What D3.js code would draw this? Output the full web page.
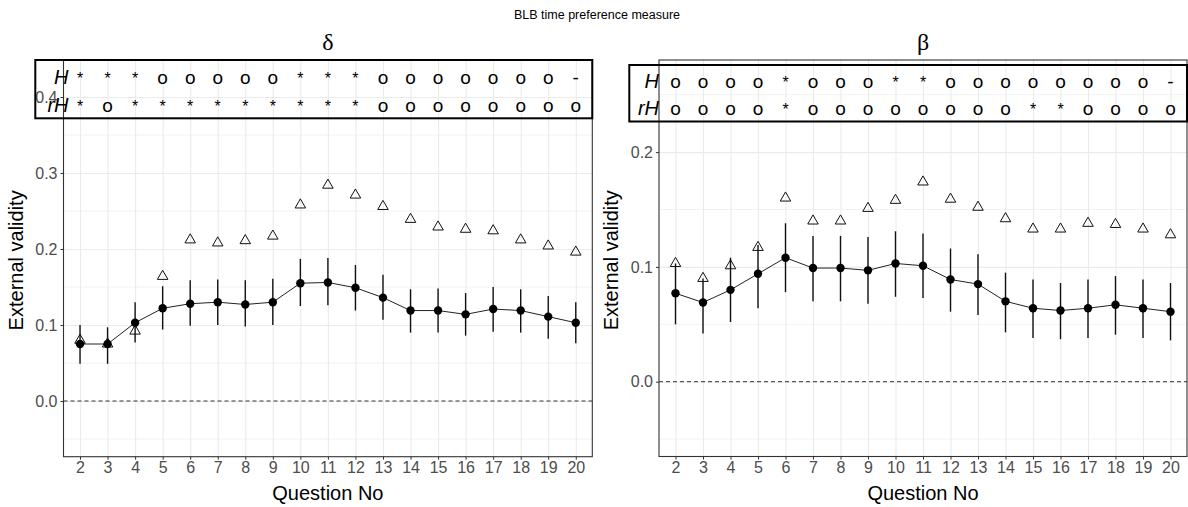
<!DOCTYPE html>
<html>
<head>
<meta charset="utf-8">
<script src="https://cdn.jsdelivr.net/npm/d3@7"></script>
<style>
  body { margin: 0; background: #fff; }
  svg { display: block; font-family: "Liberation Sans", Arial, sans-serif; }
</style>
</head>
<body>
<div id="chart"></div>
<script>
// questions on the x axis
const questions = [2, 3, 4, 5, 6, 7, 8, 9, 10, 11, 12, 13, 14, 15, 16, 17, 18, 19, 20]

// delta panel
const deltaEst = [0.075, 0.075, 0.103, 0.122, 0.128, 0.130, 0.127, 0.130, 0.155, 0.156, 0.149, 0.136, 0.119, 0.119, 0.114, 0.121, 0.119, 0.111, 0.103]
const deltaLo  = [0.049, 0.049, 0.077, 0.094, 0.099, 0.100, 0.098, 0.100, 0.125, 0.126, 0.119, 0.107, 0.090, 0.090, 0.086, 0.091, 0.090, 0.082, 0.076]
const deltaHi  = [0.100, 0.097, 0.130, 0.151, 0.159, 0.160, 0.159, 0.161, 0.187, 0.188, 0.179, 0.166, 0.147, 0.148, 0.142, 0.150, 0.147, 0.138, 0.130]
const deltaTri = [0.080, 0.075, 0.092, 0.164, 0.212, 0.208, 0.211, 0.217, 0.258, 0.284, 0.271, 0.256, 0.239, 0.229, 0.226, 0.224, 0.212, 0.204, 0.196]
const deltaH   = ["*", "*", "*", "o", "o", "o", "o", "o", "*", "*", "*", "o", "o", "o", "o", "o", "o", "o", "-"]
const deltaRH  = ["*", "o", "*", "*", "*", "*", "*", "*", "*", "*", "*", "o", "o", "o", "o", "o", "o", "o", "o"]
const deltaTicks = [0.0, 0.1, 0.2, 0.3, 0.4]

// beta panel
const betaEst = [0.077, 0.069, 0.080, 0.094, 0.108, 0.099, 0.099, 0.097, 0.103, 0.101, 0.089, 0.085, 0.070, 0.064, 0.062, 0.064, 0.067, 0.064, 0.061]
const betaLo  = [0.050, 0.042, 0.052, 0.064, 0.078, 0.070, 0.070, 0.068, 0.074, 0.073, 0.061, 0.058, 0.043, 0.038, 0.037, 0.038, 0.041, 0.038, 0.036]
const betaHi  = [0.103, 0.090, 0.108, 0.119, 0.138, 0.127, 0.127, 0.126, 0.131, 0.129, 0.116, 0.111, 0.095, 0.089, 0.086, 0.089, 0.092, 0.089, 0.086]
const betaTri = [0.103, 0.090, 0.101, 0.117, 0.160, 0.140, 0.140, 0.151, 0.158, 0.174, 0.159, 0.152, 0.142, 0.133, 0.133, 0.138, 0.137, 0.133, 0.128]
const betaH   = ["o", "o", "o", "o", "*", "o", "o", "o", "*", "*", "o", "o", "o", "o", "o", "o", "o", "o", "-"]
const betaRH  = ["o", "o", "o", "o", "*", "o", "o", "o", "o", "o", "o", "o", "o", "*", "*", "o", "o", "o", "o"]
const betaTicks = [0.0, 0.1, 0.2]

const width = 1188, height = 507

const svg = d3.select("#chart").append("svg")
    .attr("width", width)
    .attr("height", height)

svg.append("text")
    .attr("x", 597).attr("y", 19)
    .attr("text-anchor", "middle")
    .attr("font-size", 12.5)
    .attr("fill", "#000")
    .text("BLB time preference measure")

function drawPanel(opt) {
    const x = d3.scalePoint().domain(questions).range([opt.left, opt.right]).padding(0.6)
    const y = d3.scaleLinear().domain(opt.yDomain).range([opt.bottom, opt.top])
    const g = svg.append("g")

    // minor grid
    const minor = d3.range(Math.ceil(opt.yDomain[0] / 0.05), Math.floor(opt.yDomain[1] / 0.05) + 1)
        .map(i => i * 0.05).filter(v => Math.abs(Math.round(v * 10) - v * 10) > 0.01)
    g.selectAll(".minor").data(minor).join("line")
        .attr("x1", opt.left).attr("x2", opt.right)
        .attr("y1", d => y(d)).attr("y2", d => y(d))
        .attr("stroke", "#f2f2f2").attr("stroke-width", 1)

    // major grid
    g.append("g")
        .attr("transform", `translate(${opt.left},0)`)
        .call(d3.axisLeft(y).tickValues(opt.ticks).tickSize(-(opt.right - opt.left)).tickFormat(""))
        .call(a => a.select(".domain").remove())
        .call(a => a.selectAll("line").attr("stroke", "#ebebeb").attr("stroke-width", 1.1))
    g.append("g")
        .attr("transform", `translate(0,${opt.bottom})`)
        .call(d3.axisBottom(x).tickSize(-(opt.bottom - opt.top)).tickFormat(""))
        .call(a => a.select(".domain").remove())
        .call(a => a.selectAll("line").attr("stroke", "#ebebeb").attr("stroke-width", 1.1))

    // zero line
    g.append("line")
        .attr("x1", opt.left).attr("x2", opt.right)
        .attr("y1", y(0)).attr("y2", y(0))
        .attr("stroke", "#333").attr("stroke-dasharray", "4,3")

    // panel border
    g.append("rect")
        .attr("x", opt.left).attr("y", opt.top)
        .attr("width", opt.right - opt.left).attr("height", opt.bottom - opt.top)
        .attr("fill", "none").attr("stroke", "#333").attr("stroke-width", 1.1)

    // axes
    g.append("g")
        .attr("transform", `translate(${opt.left},0)`)
        .call(d3.axisLeft(y).tickValues(opt.ticks).tickSize(3).tickPadding(3).tickFormat(d3.format(".1f")))
        .call(a => a.select(".domain").remove())
        .call(a => a.selectAll("line").attr("stroke", "#333"))
        .call(a => a.selectAll("text").attr("font-size", 16).attr("fill", "#4d4d4d")
            .attr("font-family", "Liberation Sans, Arial, sans-serif"))
    g.append("g")
        .attr("transform", `translate(0,${opt.bottom})`)
        .call(d3.axisBottom(x).tickSize(3).tickPadding(2))
        .call(a => a.select(".domain").remove())
        .call(a => a.selectAll("line").attr("stroke", "#333"))
        .call(a => a.selectAll("text").attr("font-size", 16).attr("fill", "#4d4d4d")
            .attr("font-family", "Liberation Sans, Arial, sans-serif"))

    // axis titles
    g.append("text")
        .attr("transform", `translate(${opt.left - 41},${(opt.top + opt.bottom) / 2 + 2}) rotate(-90)`)
        .attr("text-anchor", "middle")
        .attr("font-size", 20)
        .text("External validity")
    g.append("text")
        .attr("x", (opt.left + opt.right) / 2).attr("y", 500)
        .attr("text-anchor", "middle")
        .attr("font-size", 20)
        .text("Question No")

    // strip label
    g.append("text")
        .attr("x", (opt.left + opt.right) / 2).attr("y", 50)
        .attr("text-anchor", "middle")
        .attr("font-size", 24)
        .attr("font-family", "Liberation Serif, serif")
        .text(opt.strip)

    // error bars
    g.selectAll(".err").data(questions).join("line")
        .attr("x1", d => x(d)).attr("x2", d => x(d))
        .attr("y1", (d, i) => y(opt.lo[i])).attr("y2", (d, i) => y(opt.hi[i]))
        .attr("stroke", "#111").attr("stroke-width", 1.4)

    // connecting line
    g.append("path")
        .datum(questions)
        .attr("fill", "none")
        .attr("stroke", "#222")
        .attr("stroke-width", 1)
        .attr("d", d3.line().x(d => x(d)).y((d, i) => y(opt.est[i])))

    // triangles
    g.selectAll(".tri").data(questions).join("path")
        .attr("transform", (d, i) => `translate(${x(d)},${y(opt.tri[i])})`)
        .attr("d", d3.symbol(d3.symbolTriangle, 48))
        .attr("fill", "none").attr("stroke", "#111").attr("stroke-width", 1)

    // points
    g.selectAll(".pt").data(questions).join("circle")
        .attr("cx", d => x(d)).attr("cy", (d, i) => y(opt.est[i]))
        .attr("r", 4.2).attr("fill", "#000")

    // significance table
    g.append("rect")
        .attr("x", opt.boxLeft).attr("y", opt.boxTop)
        .attr("width", opt.right - opt.boxLeft).attr("height", opt.boxBottom - opt.boxTop)
        .attr("fill", "none").attr("stroke", "#000").attr("stroke-width", 2)
    const rows = [{ label: "H", vals: opt.h, y: opt.rowY[0] }, { label: "rH", vals: opt.rh, y: opt.rowY[1] }]
    rows.forEach(r => {
        g.append("text")
            .attr("x", opt.left + opt.labelShift).attr("y", r.y + 7)
            .attr("text-anchor", "end")
            .attr("font-size", 20)
            .attr("font-style", "italic")
            .text(r.label)
        g.selectAll(null).data(questions).join("text")
            .attr("x", d => x(d)).attr("y", r.y + 7)
            .attr("text-anchor", "middle")
            .attr("font-size", (d, i) => r.vals[i] === "*" ? 16 : 19)
            .text((d, i) => r.vals[i])
    })
}

drawPanel({
    left: 63.5, right: 592.3, top: 60, bottom: 456.7,
    yDomain: [(401 - 456.7) / 760, (401 - 60) / 760],
    ticks: deltaTicks,
    strip: "\u03b4",
    est: deltaEst, lo: deltaLo, hi: deltaHi, tri: deltaTri,
    h: deltaH, rh: deltaRH,
    boxLeft: 35.3, boxTop: 60, boxBottom: 118.3,
    rowY: [76.5, 105], labelShift: 5
})

drawPanel({
    left: 659, right: 1187, top: 60, bottom: 456.5,
    yDomain: [(381.7 - 456.5) / 1148, (381.7 - 60) / 1148],
    ticks: betaTicks,
    strip: "\u03b2",
    est: betaEst, lo: betaLo, hi: betaHi, tri: betaTri,
    h: betaH, rh: betaRH,
    boxLeft: 629.3, boxTop: 65, boxBottom: 121.5,
    rowY: [81, 108], labelShift: 0
})
</script>
</body>
</html>
